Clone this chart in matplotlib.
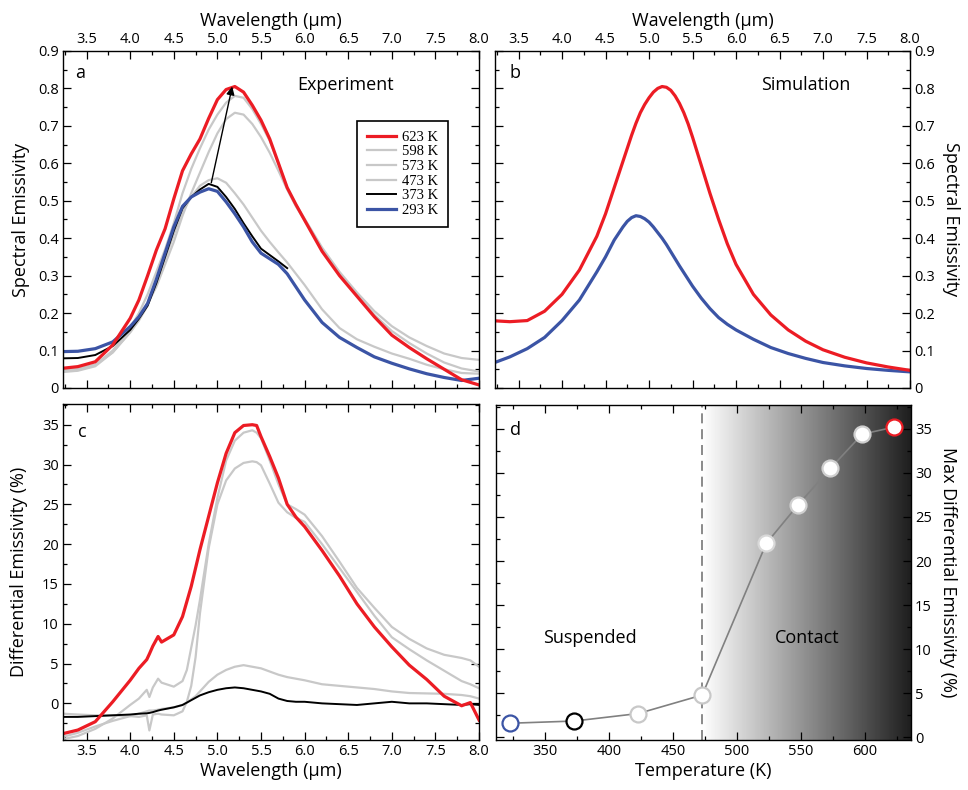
import matplotlib
matplotlib.use("Agg")
import matplotlib.pyplot as plt
import numpy as np
from matplotlib.ticker import MultipleLocator, FuncFormatter

plt.rcParams['font.family'] = ['Open Sans', 'DejaVu Sans']

RED = '#ec1c24'
BLUE = '#3b54a5'
GRAY = '#c8c8c8'
BLACK = '#000000'

# ---- panel a: measured spectral emissivity ----
wl_a = [3.2, 3.4, 3.6, 3.8, 4.0, 4.1, 4.2, 4.3, 4.4, 4.5, 4.6, 4.7, 4.8, 4.9, 5.0,
        5.1, 5.2, 5.3, 5.4, 5.5, 5.6, 5.7, 5.8, 5.9, 6.0, 6.2, 6.4, 6.6, 6.8, 7.0,
        7.2, 7.4, 7.6, 7.8, 8.0]
em_623 = [0.052, 0.057, 0.070, 0.115, 0.186, 0.235, 0.300, 0.368, 0.425, 0.505, 0.580,
          0.625, 0.665, 0.720, 0.770, 0.797, 0.805, 0.790, 0.755, 0.715, 0.665, 0.600,
          0.535, 0.490, 0.448, 0.365, 0.300, 0.245, 0.190, 0.141, 0.108, 0.078, 0.050,
          0.022, 0.008]
em_598 = [0.044, 0.048, 0.062, 0.100, 0.160, 0.200, 0.250, 0.310, 0.370, 0.440, 0.520,
          0.585, 0.640, 0.690, 0.730, 0.762, 0.780, 0.775, 0.745, 0.705, 0.660, 0.600,
          0.535, 0.490, 0.452, 0.375, 0.310, 0.255, 0.205, 0.165, 0.135, 0.112, 0.092,
          0.080, 0.075]
em_573 = [0.042, 0.046, 0.058, 0.095, 0.150, 0.185, 0.225, 0.270, 0.330, 0.390, 0.460,
          0.520, 0.575, 0.630, 0.680, 0.718, 0.735, 0.730, 0.705, 0.670, 0.628, 0.580,
          0.530, 0.485, 0.448, 0.372, 0.305, 0.250, 0.195, 0.152, 0.120, 0.092, 0.068,
          0.052, 0.044]
em_473 = [0.050, 0.052, 0.062, 0.095, 0.148, 0.180, 0.220, 0.280, 0.345, 0.410, 0.470,
          0.510, 0.540, 0.555, 0.560, 0.548, 0.520, 0.490, 0.455, 0.420, 0.390, 0.362,
          0.335, 0.305, 0.275, 0.210, 0.160, 0.130, 0.110, 0.092, 0.078, 0.062, 0.050,
          0.040, 0.038]
em_373 = [0.079, 0.080, 0.088, 0.112, 0.155, 0.185, 0.220, 0.280, 0.350, 0.420, 0.480,
          0.510, 0.530, 0.545, 0.537, 0.510, 0.478, 0.440, 0.405, 0.372, 0.355, 0.338,
          0.320, np.nan, np.nan, np.nan, np.nan, np.nan, np.nan, np.nan, np.nan, np.nan,
          np.nan, np.nan, np.nan]
em_293 = [0.097, 0.098, 0.105, 0.123, 0.164, 0.190, 0.226, 0.290, 0.360, 0.430, 0.485,
          0.510, 0.523, 0.532, 0.525, 0.497, 0.465, 0.430, 0.390, 0.360, 0.345, 0.330,
          0.305, 0.270, 0.235, 0.175, 0.135, 0.108, 0.083, 0.066, 0.051, 0.038, 0.028,
          0.020, 0.026]

# ---- panel b: simulation ----
wl_b = [3.25, 3.4, 3.6, 3.8, 4.0, 4.2, 4.4, 4.5, 4.6, 4.7, 4.75, 4.8, 4.85, 4.9, 4.95,
        5.0, 5.05, 5.1, 5.15, 5.2, 5.25, 5.3, 5.35, 5.4, 5.45, 5.5, 5.6, 5.7, 5.8, 5.9,
        6.0, 6.2, 6.4, 6.6, 6.8, 7.0, 7.25, 7.5, 7.75, 8.0]
sim_hot = [0.179, 0.177, 0.180, 0.205, 0.250, 0.315, 0.405, 0.465, 0.535, 0.605, 0.640,
           0.675, 0.707, 0.735, 0.757, 0.775, 0.790, 0.800, 0.805, 0.803, 0.795, 0.780,
           0.760, 0.735, 0.705, 0.670, 0.595, 0.520, 0.450, 0.385, 0.330, 0.250, 0.195,
           0.155, 0.125, 0.102, 0.082, 0.067, 0.056, 0.047]
sim_cold = [0.070, 0.083, 0.105, 0.135, 0.180, 0.235, 0.310, 0.350, 0.395, 0.430, 0.445,
            0.455, 0.460, 0.458, 0.452, 0.443, 0.430, 0.415, 0.400, 0.383, 0.364, 0.345,
            0.326, 0.308, 0.290, 0.272, 0.240, 0.212, 0.188, 0.170, 0.155, 0.130, 0.108,
            0.092, 0.079, 0.068, 0.059, 0.052, 0.047, 0.043]

# ---- panel c: differential emissivity (%) ----
wl_c = [3.23, 3.4, 3.6, 3.8, 4.0, 4.1, 4.19, 4.22, 4.26, 4.32, 4.36, 4.5, 4.6, 4.65,
        4.7, 4.75, 4.8, 4.9, 5.0, 5.1, 5.2, 5.3, 5.4, 5.45, 5.5, 5.6, 5.7, 5.8, 5.9,
        6.0, 6.2, 6.4, 6.6, 6.8, 7.0, 7.2, 7.4, 7.6, 7.8, 7.9, 8.0]
d_623 = [-3.8, -3.35, -2.3, 0.2, 2.9, 4.4, 5.5, 6.2, 7.2, 8.4, 7.7, 8.6, 10.9, 12.8,
         14.7, 17.0, 19.3, 23.5, 27.7, 31.4, 34.0, 34.9, 35.0, 34.9, 33.5, 31.0, 28.3,
         25.0, 23.4, 22.2, 19.2, 16.0, 12.5, 9.6, 7.1, 4.8, 3.0, 0.9, -0.3, 0.1, -2.1]
d_598 = [-4.5, -4.1, -3.2, -1.9, -0.2, 0.6, 1.7, 0.8, 2.0, 3.1, 2.6, 2.1, 2.8, 4.2,
         7.0, 9.8, 13.0, 20.0, 25.8, 30.5, 33.0, 34.0, 34.3, 34.0, 33.3, 30.5, 27.5,
         25.0, 24.4, 23.7, 21.0, 17.8, 14.5, 12.0, 9.6, 8.1, 6.9, 6.1, 5.7, 5.4, 4.6]
d_573 = [-1.3, -1.4, -1.5, -1.5, -1.6, -1.7, -1.5, -3.4, -1.4, -1.3, -1.4, -1.5, -1.0,
         0.2, 2.2, 5.8, 11.3, 19.5, 25.0, 28.0, 29.5, 30.2, 30.4, 30.3, 29.9, 27.6, 25.2,
         24.0, 23.3, 22.8, 20.0, 17.0, 14.0, 11.0, 8.3, 6.8, 5.4, 4.1, 2.8, 2.4, 1.9]
d_473 = [-4.2, -3.7, -2.9, -2.2, -1.6, -1.3, -1.0, -0.9, -0.9, -0.8, -0.7, -0.5, -0.2,
         0.1, 0.5, 0.9, 1.5, 2.7, 3.6, 4.2, 4.6, 4.8, 4.6, 4.5, 4.4, 4.0, 3.6, 3.3, 3.1,
         2.9, 2.4, 2.2, 2.0, 1.8, 1.5, 1.3, 1.25, 1.2, 1.05, 0.9, 0.6]
d_373 = [-1.7, -1.7, -1.6, -1.5, -1.4, -1.3, -1.25, -1.2, -1.1, -0.9, -0.8, -0.5, -0.2,
         0.1, 0.4, 0.7, 1.0, 1.4, 1.7, 1.9, 2.0, 1.9, 1.7, 1.6, 1.5, 1.2, 0.6, 0.3, 0.2,
         0.2, 0.0, -0.1, -0.2, 0.0, 0.2, 0.0, 0.0, -0.1, -0.2, -0.1, -0.2]

# ---- panel d: max differential emissivity vs temperature ----
temps = [323, 373, 423, 473, 523, 548, 573, 598, 623]
max_diff = [1.6, 1.85, 2.7, 4.8, 22.0, 26.4, 30.5, 34.4, 35.2]
edge_cols = [BLUE, BLACK, GRAY, GRAY, '#d8d8d8', '#cfcfcf', '#cfcfcf', '#cfcfcf', RED]
t_contact = 473

fig = plt.figure(figsize=(9.68, 7.9), dpi=100)
ax_a = fig.add_axes([0.0651, 0.5089, 0.4298, 0.4266])
ax_b = fig.add_axes([0.5114, 0.5089, 0.4287, 0.4266])
ax_c = fig.add_axes([0.0651, 0.0633, 0.4298, 0.4253])
ax_d = fig.add_axes([0.5124, 0.0633, 0.4287, 0.4240])

TICK = 10.5
LAB = 13


def style(ax):
    ax.tick_params(which='both', direction='in', top=True, bottom=True, left=True,
                   right=True, labelsize=TICK, pad=3, width=0.9)
    ax.tick_params(which='major', length=5.5)
    ax.tick_params(which='minor', length=2.8)
    for s in ax.spines.values():
        s.set_linewidth(1.0)


emfmt = FuncFormatter(lambda v, p: '0' if abs(v) < 1e-9 else f'{v:.1f}')

for ax in (ax_a, ax_b):
    style(ax)
    ax.set_xlim(3.23, 8.0)
    ax.set_ylim(0, 0.9)
    ax.xaxis.set_major_locator(MultipleLocator(0.5))
    ax.xaxis.set_minor_locator(MultipleLocator(0.25))
    ax.yaxis.set_major_locator(MultipleLocator(0.1))
    ax.yaxis.set_minor_locator(MultipleLocator(0.05))
    ax.xaxis.set_major_formatter(FuncFormatter(lambda v, p: f'{v:.1f}'))
    ax.yaxis.set_major_formatter(emfmt)
    ax.tick_params(labeltop=True, labelbottom=False)
    ax.xaxis.set_label_position('top')
    ax.set_xlabel('Wavelength (μm)', fontsize=LAB, labelpad=4)

# panel a
ax_a.plot(wl_a, em_473, color=GRAY, lw=1.6, label='473 K')
ax_a.plot(wl_a, em_573, color=GRAY, lw=1.6, label='573 K')
ax_a.plot(wl_a, em_598, color=GRAY, lw=1.6, label='598 K')
ax_a.plot(wl_a, em_373, color=BLACK, lw=1.4, label='373 K')
ax_a.plot(wl_a, em_293, color=BLUE, lw=2.3, label='293 K')
ax_a.plot(wl_a, em_623, color=RED, lw=2.3, label='623 K')
ax_a.annotate('', xy=(5.17, 0.805), xytext=(4.93, 0.548),
              arrowprops=dict(arrowstyle='-|>', color='black', lw=1.0,
                              mutation_scale=12, shrinkA=0, shrinkB=0))
h, l = ax_a.get_legend_handles_labels()
order = ['623 K', '598 K', '573 K', '473 K', '373 K', '293 K']
hd = {lab: hh for hh, lab in zip(h, l)}
leg = ax_a.legend([hd[o] for o in order], order, loc='upper left',
                  bbox_to_anchor=(0.707, 0.792), borderaxespad=0, fancybox=False,
                  edgecolor='black', framealpha=1, handlelength=2.0,
                  labelspacing=0.1, borderpad=0.65, handletextpad=0.45,
                  prop={'family': 'Liberation Serif', 'size': 10.5})
leg.get_frame().set_linewidth(1.2)
ax_a.set_ylabel('Spectral Emissivity', fontsize=LAB, labelpad=6)
ax_a.text(0.041, 0.935, 'a', transform=ax_a.transAxes, fontsize=13, ha='center', va='center')
ax_a.text(0.678, 0.899, 'Experiment', transform=ax_a.transAxes, fontsize=13,
          ha='center', va='center')

# panel b
ax_b.plot(wl_b, sim_cold, color=BLUE, lw=2.3)
ax_b.plot(wl_b, sim_hot, color=RED, lw=2.3)
ax_b.tick_params(labelleft=False, labelright=True)
ax_b.yaxis.set_label_position('right')
ax_b.set_ylabel('Spectral Emissivity', fontsize=LAB, rotation=270, labelpad=18)
ax_b.text(0.048, 0.935, 'b', transform=ax_b.transAxes, fontsize=13, ha='center', va='center')
ax_b.text(0.749, 0.899, 'Simulation', transform=ax_b.transAxes, fontsize=13,
          ha='center', va='center')

# panel c
style(ax_c)
ax_c.plot(wl_c, d_473, color=GRAY, lw=1.6)
ax_c.plot(wl_c, d_573, color=GRAY, lw=1.6)
ax_c.plot(wl_c, d_598, color=GRAY, lw=1.6)
ax_c.plot(wl_c, d_373, color=BLACK, lw=1.4)
ax_c.plot(wl_c, d_623, color=RED, lw=2.3)
ax_c.set_xlim(3.23, 8.0)
ax_c.set_ylim(-4.6, 37.6)
ax_c.xaxis.set_major_locator(MultipleLocator(0.5))
ax_c.xaxis.set_minor_locator(MultipleLocator(0.25))
ax_c.yaxis.set_major_locator(MultipleLocator(5))
ax_c.yaxis.set_minor_locator(MultipleLocator(2.5))
ax_c.xaxis.set_major_formatter(FuncFormatter(lambda v, p: f'{v:.1f}'))
ax_c.yaxis.set_major_formatter(FuncFormatter(lambda v, p: f'{v:.0f}' if v >= 0 else ''))
ax_c.set_xlabel('Wavelength (μm)', fontsize=LAB, labelpad=2)
ax_c.set_ylabel('Differential Emissivity (%)', fontsize=LAB, labelpad=10)
ax_c.text(0.046, 0.917, 'c', transform=ax_c.transAxes, fontsize=13, ha='center', va='center')

# panel d
style(ax_d)
ax_d.set_xlim(312, 636)
ax_d.set_ylim(-0.3, 37.7)
grad = np.linspace(1.0, 0.12, 256).reshape(1, -1)
ax_d.imshow(grad, cmap='gray', vmin=0, vmax=1, aspect='auto',
            extent=(t_contact, 636, -0.3, 37.7), zorder=0, interpolation='bicubic')
ax_d.axvline(t_contact, color='#777777', lw=1.2, ls=(0, (6, 3.5)), zorder=1)
ax_d.plot(temps, max_diff, color='#808080', lw=1.2, zorder=2)
for t, m, ec in zip(temps, max_diff, edge_cols):
    ax_d.plot([t], [m], 'o', ms=11.5, mfc='white', mec=ec, mew=1.6, zorder=3)
ax_d.xaxis.set_major_locator(MultipleLocator(50))
ax_d.xaxis.set_minor_locator(MultipleLocator(25))
ax_d.yaxis.set_major_locator(MultipleLocator(5))
ax_d.yaxis.set_minor_locator(MultipleLocator(2.5))
ax_d.set_xticks([350, 400, 450, 500, 550, 600])
ax_d.tick_params(labelleft=False, labelright=True)
ax_d.yaxis.set_label_position('right')
ax_d.set_ylabel('Max Differential Emissivity (%)', fontsize=LAB, rotation=270, labelpad=18)
ax_d.set_xlabel('Temperature (K)', fontsize=LAB, labelpad=2)
ax_d.text(0.046, 0.925, 'd', transform=ax_d.transAxes, fontsize=13, ha='center', va='center')
ax_d.text(385, 11.25, 'Suspended', fontsize=13, ha='center', va='center')
ax_d.text(555, 11.25, 'Contact', fontsize=13, ha='center', va='center')
ax_d.set_axisbelow(False)

fig.savefig('out.png', dpi=100)
